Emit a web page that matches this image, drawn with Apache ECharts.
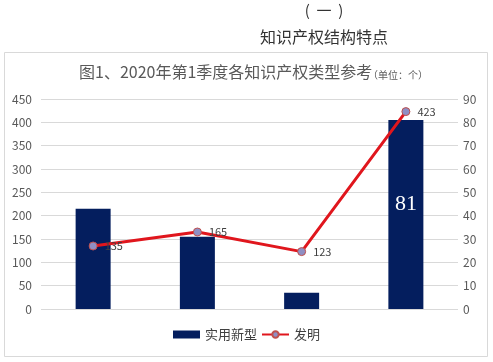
<!DOCTYPE html>
<html><head><meta charset="utf-8">
<script src="https://cdn.jsdelivr.net/npm/echarts@6/dist/echarts.min.js"></script>
<style>html,body{margin:0;padding:0;background:#fff}#c{width:493px;height:362px}</style>
</head><body><div id="c"></div>
<script>
const categories = ['A', 'B', 'C', 'D'];
const utilityModel = [43, 31, 7, 81];
const invention = [135, 165, 123, 423];
const barLabels = ['', '', '', '81'];
const leftTicks = [0, 450, 50];
const rightTicks = [0, 90, 10];

const chart = echarts.init(document.getElementById('c'));
const font = '"Noto Sans CJK SC", "Microsoft YaHei", sans-serif';
chart.setOption({
  animation: false,
  backgroundColor: '#fff',
  textStyle: { fontFamily: font },
  graphic: [
    { type: 'rect', shape: { x: 4.5, y: 52.5, width: 483, height: 304 }, style: { fill: 'none', stroke: '#d9d9d9', lineWidth: 1 } },
    { type: 'text', style: { text: '(  一  )', x: 324, y: 3, textAlign: 'center', font: '15px ' + font, fill: '#333' } },
    { type: 'text', style: { text: '知识产权结构特点', x: 324, y: 29, textAlign: 'center', font: '16px ' + font, fill: '#333' } },
    { type: 'text', style: { text: '图1、2020年第1季度各知识产权类型参考', x: 79, y: 64, font: '16px ' + font, fill: '#595959' } },
    { type: 'text', style: { text: '（单位：个）', x: 368, y: 70, font: '10px ' + font, fill: '#595959' } }
  ],
  legend: {
    bottom: 16, left: 'center', itemGap: 4, itemWidth: 27, itemHeight: 8,
    textStyle: { fontSize: 13, color: '#404040', fontFamily: font },
    data: [
      { name: '实用新型', icon: 'rect' },
      { name: '发明' }
    ]
  },
  grid: { left: 41, right: 35, top: 99, bottom: 53 },
  xAxis: {
    type: 'category', data: categories,
    axisLine: { show: false }, axisTick: { show: false }, axisLabel: { show: false }
  },
  yAxis: [
    { type: 'value', min: leftTicks[0], max: leftTicks[1], interval: leftTicks[2],
      axisLine: { show: false }, axisTick: { show: false },
      axisLabel: { color: '#595959', fontSize: 12, margin: 9 },
      splitLine: { lineStyle: { color: '#d9d9d9' } } },
    { type: 'value', min: rightTicks[0], max: rightTicks[1], interval: rightTicks[2],
      axisLine: { show: false }, axisTick: { show: false },
      axisLabel: { color: '#595959', fontSize: 12, margin: 5 },
      splitLine: { show: false } }
  ],
  series: [
    { name: '实用新型', type: 'bar', yAxisIndex: 1, data: utilityModel, barWidth: 35,
      itemStyle: { color: '#041e5e' },
      label: { show: true, position: 'inside', offset: [0, -10],
        formatter: p => barLabels[p.dataIndex], color: '#fff', fontSize: 22,
        fontFamily: '"Liberation Serif", "DejaVu Serif", serif' } },
    { name: '发明', type: 'line', yAxisIndex: 0, data: invention, z: 5,
      symbol: 'circle', symbolSize: 8,
      lineStyle: { color: '#e0161d', width: 3 },
      itemStyle: { color: '#8f8fc4', borderColor: '#c0504d', borderWidth: 1 },
      label: { show: true, position: 'right', distance: 7, color: '#404040', fontSize: 11 } }
  ]
});
</script></body></html>
